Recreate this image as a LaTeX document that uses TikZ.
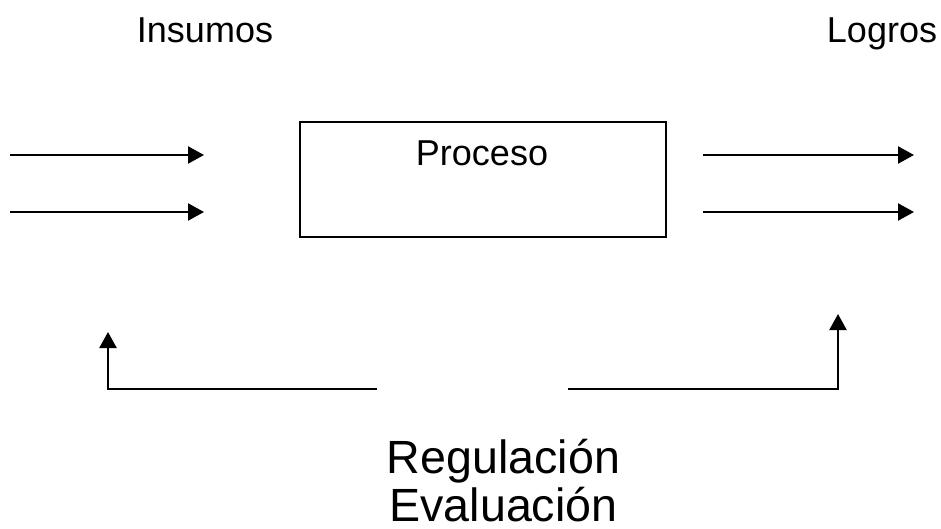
\documentclass[tikz,border=0pt]{standalone}
\usepackage{fontspec}
\setmainfont{Liberation Sans}
\usetikzlibrary{arrows, arrows.meta}
\tikzset{flecha/.style={line width=1.1pt, -{Triangle[length=8pt, width=8.5pt]}}}

\begin{document}
\begin{tikzpicture}[x=0.5pt, y=-0.5pt]
\useasboundingbox (0,0) rectangle (941,529);

\node[anchor=base, font=\fontsize{18}{21}\selectfont] (insumos) at (205,43) {Insumos};
\node[anchor=base, font=\fontsize{18}{21}\selectfont] (logros) at (882,43) {Logros};

\node[draw, line width=0.7pt, minimum width=183pt, minimum height=57.5pt] (caja) at (483,179.5) {};
\node[anchor=base, font=\fontsize{18}{21}\selectfont] (proceso) at (482,166) {Proceso};

\foreach \y [count=\i] in {155,212}
{
    \coordinate (ein\i) at (10,\y);
    \coordinate (ain\i) at (204,\y);
    \coordinate (eout\i) at (703,\y);
    \coordinate (aout\i) at (914,\y);
    \draw[flecha] (ein\i) -- (ain\i);
    \draw[flecha] (eout\i) -- (aout\i);
};

% retroalimentacion
\coordinate (izq) at (377,389);
\coordinate (izqarriba) at (108,332);
\coordinate (der) at (568,389);
\coordinate (derarriba) at (838,314);
\draw[flecha] (izq) -| (izqarriba);
\draw[flecha] (der) -| (derarriba);

\node[anchor=base, font=\fontsize{23.3}{24}\selectfont] (regulacion) at (503.5,473) {Regulación};
\node[anchor=base, font=\fontsize{23.3}{24}\selectfont] (evaluacion) at (503.5,521) {Evaluación};
\end{tikzpicture}
\end{document}
